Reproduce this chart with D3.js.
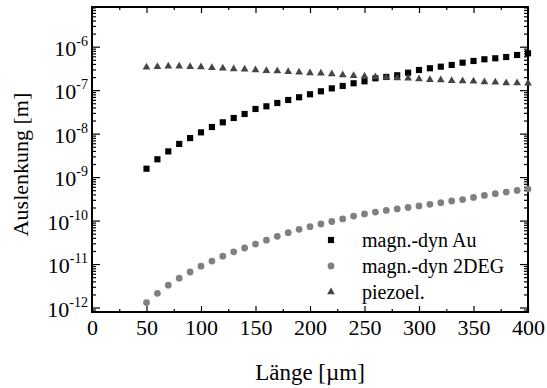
<!DOCTYPE html>
<html>
<head>
<meta charset="utf-8">
<script src="https://cdn.jsdelivr.net/npm/d3@7"></script>
<style>
  body { margin: 0; background: #fff; }
  svg text { fill: #000; }
</style>
</head>
<body>
<div id="chart"></div>
<script>
const width = 547, height = 388;
const margin = { top: 7, right: 19, bottom: 76, left: 92 };

// Länge in µm
const lengths = [50, 60, 70, 80, 90, 100, 110, 120, 130, 140, 150, 160, 170, 180, 190, 200, 210, 220,
    230, 240, 250, 260, 270, 280, 290, 300, 310, 320, 330, 340, 350, 360, 370, 380, 390, 400];

// Auslenkung in m
const auValues = [1.56e-9, 2.57e-9, 3.9e-9, 5.8e-9, 7.9e-9, 1.07e-8, 1.42e-8, 1.82e-8, 2.29e-8, 2.83e-8,
    3.69e-8, 4.25e-8, 5.07e-8, 5.94e-8, 6.86e-8, 8.04e-8, 9.42e-8, 1.10e-7, 1.25e-7, 1.44e-7,
    1.60e-7, 1.87e-7, 2.01e-7, 2.20e-7, 2.52e-7, 2.91e-7, 3.19e-7, 3.47e-7, 3.80e-7, 4.29e-7,
    4.69e-7, 5.13e-7, 5.41e-7, 5.79e-7, 6.44e-7, 7.05e-7];
const degValues = [1.30e-12, 2.12e-12, 3.26e-12, 4.72e-12, 6.56e-12, 8.92e-12, 1.17e-11, 1.52e-11, 1.91e-11, 2.34e-11,
    2.89e-11, 3.54e-11, 4.35e-11, 5.26e-11, 6.30e-11, 7.23e-11, 8.34e-11, 9.52e-11, 1.09e-10, 1.27e-10,
    1.42e-10, 1.57e-10, 1.71e-10, 1.85e-10, 2.00e-10, 2.17e-10, 2.37e-10, 2.58e-10, 2.82e-10, 3.05e-10,
    3.40e-10, 3.78e-10, 4.15e-10, 4.54e-10, 4.92e-10, 5.32e-10];
const piezoValues = [3.36e-7, 3.47e-7, 3.54e-7, 3.54e-7, 3.47e-7, 3.41e-7, 3.29e-7, 3.19e-7, 3.07e-7, 3.02e-7,
    2.91e-7, 2.81e-7, 2.76e-7, 2.66e-7, 2.58e-7, 2.48e-7, 2.44e-7, 2.36e-7, 2.23e-7, 2.15e-7,
    2.09e-7, 2.01e-7, 1.96e-7, 1.90e-7, 1.87e-7, 1.81e-7, 1.74e-7, 1.71e-7, 1.65e-7, 1.62e-7,
    1.60e-7, 1.54e-7, 1.52e-7, 1.46e-7, 1.46e-7, 1.44e-7];

const seriesNames = ["magn.-dyn Au", "magn.-dyn 2DEG", "piezoel."];
const xTicks = [0, 50, 100, 150, 200, 250, 300, 350, 400];
const xMinorTicks = [25, 75, 125, 175, 225, 275, 325, 375];
const yExponents = [-12, -11, -10, -9, -8, -7, -6];

const series = [
    { name: seriesNames[0], values: auValues, color: "#000", symbol: d3.symbolSquare, size: 38 },
    { name: seriesNames[1], values: degValues, color: "#808080", symbol: d3.symbolCircle, size: 36 },
    { name: seriesNames[2], values: piezoValues, color: "#454545", symbol: d3.symbolTriangle, size: 26 }
];

const fontStack = '"Liberation Serif", Tinos, "Times New Roman", Times, serif';

const svg = d3.select("#chart").append("svg")
    .attr("width", width).attr("height", height)
    .attr("font-family", fontStack);

const x = d3.scaleLinear().domain([0, 400]).range([margin.left, width - margin.right]);
const y = d3.scaleLog().domain([Math.pow(10, -12.103), Math.pow(10, -5.087)])
    .range([height - margin.bottom, margin.top]);

// minor log ticks 2..9 in every decade
const yMinorTicks = [];
for (let e = -13; e <= -6; e++) {
    for (let m = 2; m <= 9; m++) {
        const v = m * Math.pow(10, e);
        if (v >= y.domain()[0] && v <= y.domain()[1]) yMinorTicks.push(v);
    }
}
const yMajor = yExponents.map(e => Math.pow(10, e));

function styleAxis(g) {
    g.attr("font-family", fontStack);
    g.select(".domain").remove();
    g.selectAll(".tick line").attr("stroke", "#000").attr("stroke-width", 1.2);
}

// bottom axis with labels
svg.append("g")
    .attr("transform", `translate(0,${height - margin.bottom})`)
    .call(d3.axisBottom(x).tickValues(xTicks).tickSize(-6).tickPadding(7))
    .call(styleAxis)
    .call(g => g.selectAll("text").style("font-size", "22px").attr("dy", "0.71em"));
svg.append("g")
    .attr("transform", `translate(0,${height - margin.bottom})`)
    .call(d3.axisBottom(x).tickValues(xMinorTicks).tickSize(-3).tickFormat(""))
    .call(styleAxis);
// top axis
svg.append("g")
    .attr("transform", `translate(0,${margin.top})`)
    .call(d3.axisTop(x).tickValues(xTicks).tickSize(-6).tickFormat(""))
    .call(styleAxis);
svg.append("g")
    .attr("transform", `translate(0,${margin.top})`)
    .call(d3.axisTop(x).tickValues(xMinorTicks).tickSize(-3).tickFormat(""))
    .call(styleAxis);

// left axis with 10^n labels
const yAxisG = svg.append("g")
    .attr("transform", `translate(${margin.left},0)`)
    .call(d3.axisLeft(y).tickValues(yMajor).tickSize(-8).tickPadding(4).tickFormat(""))
    .call(styleAxis);
yAxisG.selectAll(".tick text")
    .attr("dy", "0.4em")
    .style("font-size", "22px")
    .each(function (d) {
        const t = d3.select(this);
        t.append("tspan").text("10");
        t.append("tspan").attr("dy", -10).style("font-size", "14px")
            .text("-" + Math.abs(Math.round(Math.log10(d))));
    });
svg.append("g")
    .attr("transform", `translate(${margin.left},0)`)
    .call(d3.axisLeft(y).tickValues(yMinorTicks).tickSize(-4).tickFormat(""))
    .call(styleAxis);
// right axis
svg.append("g")
    .attr("transform", `translate(${width - margin.right},0)`)
    .call(d3.axisRight(y).tickValues(yMajor).tickSize(-8).tickFormat(""))
    .call(styleAxis);
svg.append("g")
    .attr("transform", `translate(${width - margin.right},0)`)
    .call(d3.axisRight(y).tickValues(yMinorTicks).tickSize(-4).tickFormat(""))
    .call(styleAxis);

// frame
svg.append("rect")
    .attr("x", margin.left).attr("y", margin.top)
    .attr("width", width - margin.left - margin.right)
    .attr("height", height - margin.top - margin.bottom)
    .attr("fill", "none").attr("stroke", "#000").attr("stroke-width", 2);

// data points
series.forEach(s => {
    svg.append("g").selectAll("path")
        .data(s.values)
        .enter().append("path")
        .attr("transform", (d, i) => `translate(${x(lengths[i])},${y(d)})`)
        .attr("d", d3.symbol().type(s.symbol).size(s.size))
        .attr("fill", s.color);
});

// legend
const legend = svg.append("g").attr("transform", "translate(331,240)");
series.forEach((s, i) => {
    const row = legend.append("g").attr("transform", `translate(0,${i * 26})`);
    row.append("path")
        .attr("d", d3.symbol().type(s.symbol).size(s.size))
        .attr("fill", s.color);
    row.append("text")
        .attr("x", 31).attr("y", 7)
        .style("font-size", "20px")
        .text(s.name);
});

// axis titles
svg.append("text")
    .attr("x", (margin.left + width - margin.right) / 2)
    .attr("y", 380)
    .attr("text-anchor", "middle")
    .style("font-size", "23px")
    .text("Länge [µm]");

svg.append("text")
    .attr("transform", `translate(28,${(margin.top + height - margin.bottom) / 2 + 5}) rotate(-90)`)
    .attr("text-anchor", "middle")
    .style("font-size", "22px")
    .text("Auslenkung [m]");
</script>
</body>
</html>
